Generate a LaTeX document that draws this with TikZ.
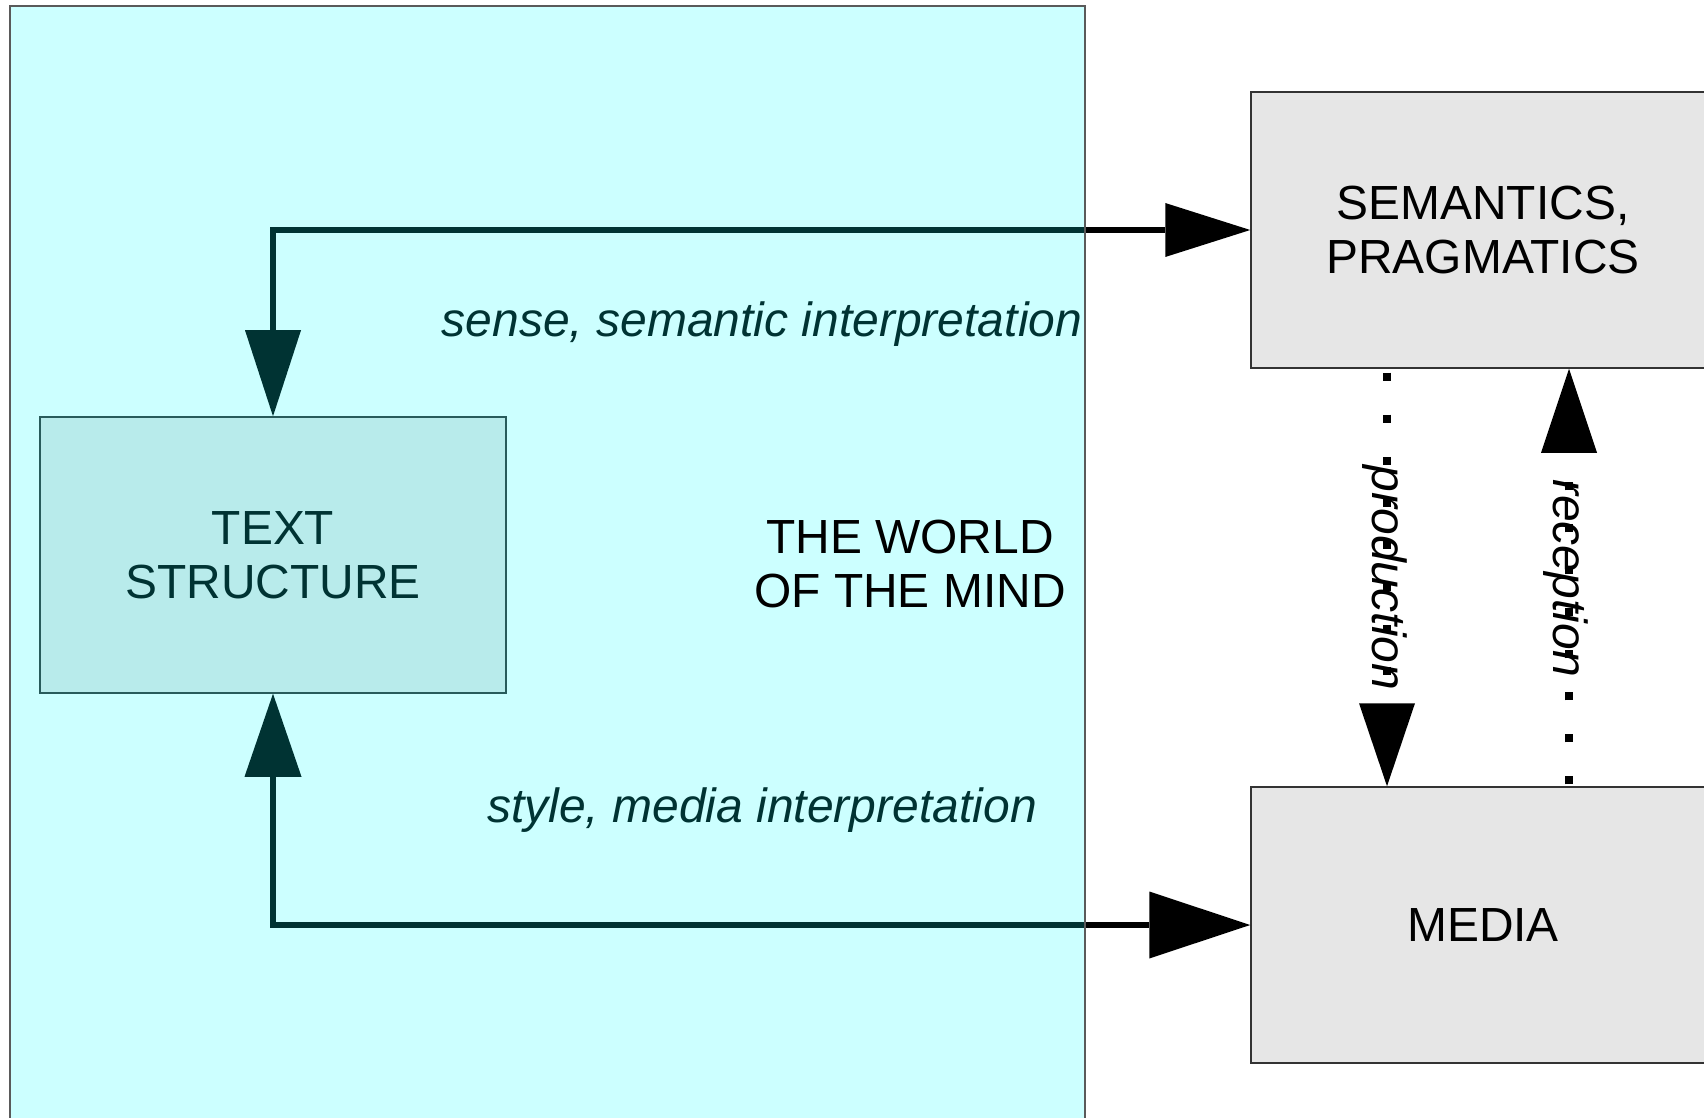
\documentclass[tikz,border=0pt]{standalone}
\usepackage{fontspec}
\setmainfont{Liberation Sans}
\usetikzlibrary{arrows.meta}
\definecolor{aqua}{RGB}{0,255,255}
\definecolor{boxgray}{RGB}{230,230,230}
\definecolor{edgegray}{RGB}{51,51,51}
\begin{document}
\begin{tikzpicture}[x=0.5pt,y=-0.5pt,
  txt/.style={font=\fontsize{23.95}{26.8}\selectfont, align=center, inner sep=0pt},
  itl/.style={font=\fontsize{24}{26.8}\selectfont\itshape, inner sep=0pt},
  graybox/.style={draw=edgegray, line width=0.75pt, fill=boxgray, minimum width=232pt, minimum height=138pt, txt},
  conn/.style={draw=black, line width=3.25pt, line join=miter},
  dots/.style={draw=black, line width=4pt, line cap=butt, dash pattern=on 4pt off 17pt},
  world/.style={fill=aqua, fill opacity=0.2, draw={rgb,255:red,90;green,90;blue,90}, draw opacity=1, line width=0.75pt}
]
\clip (0,0) rectangle (1704,1118);
\fill[white] (0,0) rectangle (1704,1118);

\node[graybox] (sem) at (1483,230) {SEMANTICS,\\PRAGMATICS};
\node[graybox] (media) at (1483,925) {MEDIA};
\node[graybox, minimum width=233pt] (ts) at (273,555) {TEXT\\STRUCTURE};

\draw[conn, {Triangle[length=43pt,width=28pt,line width=0pt]}-{Triangle[length=42.5pt,width=27pt,line width=0pt]}]
  (ts.north) |- (sem.west);
\draw[conn, {Triangle[length=41.5pt,width=28.5pt,line width=0pt]}-{Triangle[length=50.5pt,width=33.5pt,line width=0pt]}]
  (ts.south) |- (media.west);

\node[itl] (sense) at (762,324) {sense, semantic interpretation};
\node[itl] (style) at (762,810) {style, media interpretation};

\coordinate (px) at (1387,0);
\coordinate (rx) at (1569,0);
\draw[dots, dash phase=19pt, -{Triangle[length=41.5pt,width=28pt,line width=0pt]}] (px |- sem.south) -- (px |- media.north);
\draw[dots, dash phase=20pt, -{Triangle[length=42pt,width=28pt,line width=0pt]}] (rx |- media.north) -- (rx |- sem.south);

\node[itl, rotate=-90] (prod) at (1385,578) {production};
\node[itl, rotate=-90] (recep) at (1566,578) {reception};

\path[world] (10,6) rectangle (1085,1140);
\node[txt] (mind) at (910,564) {THE WORLD\\OF THE MIND};
\end{tikzpicture}
\end{document}
